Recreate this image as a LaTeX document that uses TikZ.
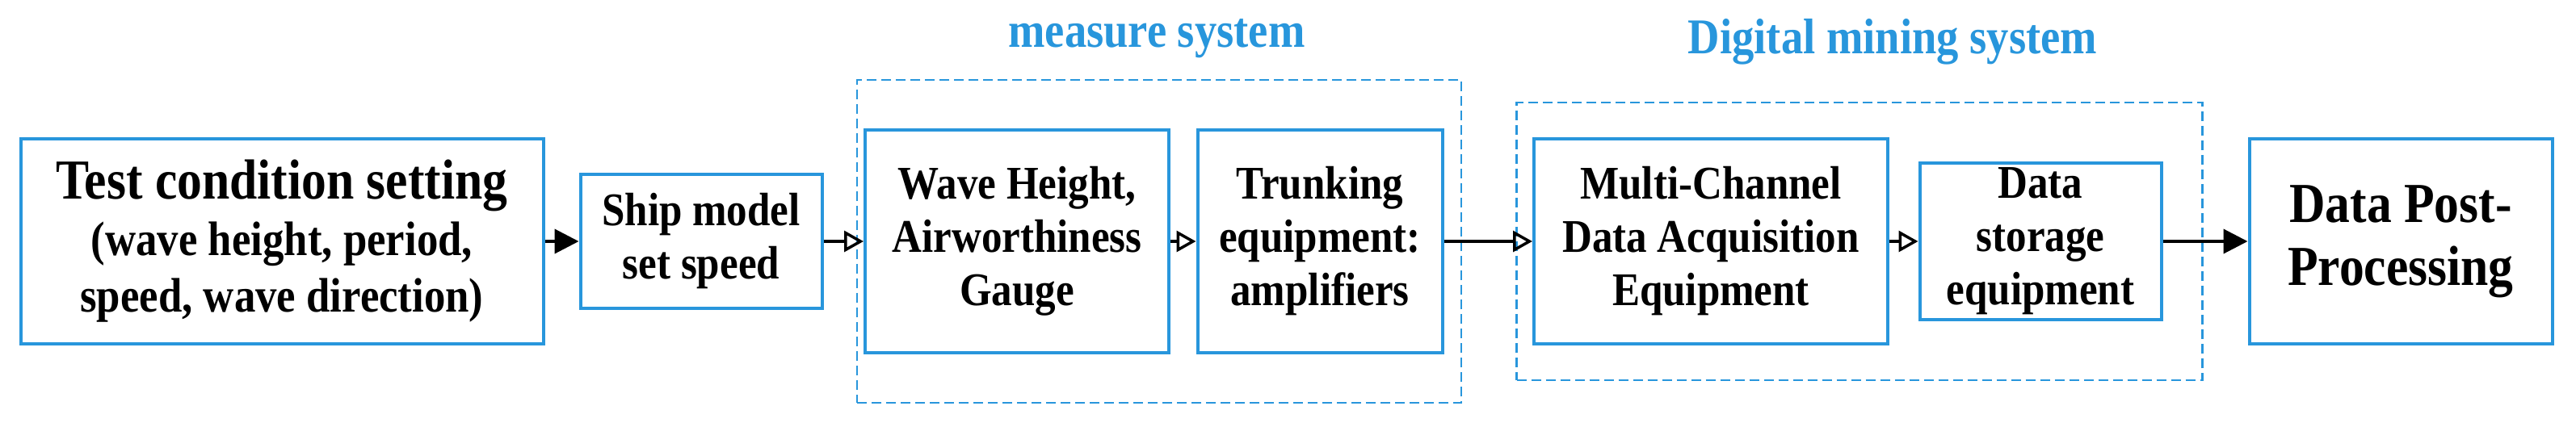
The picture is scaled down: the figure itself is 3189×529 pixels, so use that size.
\documentclass[tikz,border=0pt]{standalone}
\usepackage{fontspec}
\setmainfont{Liberation Serif}[FakeStretch=0.88]
\usetikzlibrary{arrows.meta}
\definecolor{bl}{RGB}{40,150,220}
\begin{document}
\begin{tikzpicture}[x=1pt,y=-1pt,
  box/.style={draw=bl,line width=4pt,align=center,font=\bfseries\fontsize{58}{66}\selectfont,inner sep=0pt},
  grp/.style={draw=bl,line width=2.5pt,dash pattern=on 12pt off 6pt},
  ttl/.style={text=bl,font=\bfseries\fontsize{62}{70}\selectfont},
  fa/.style={line width=4pt,-{Triangle[length=30pt,width=30pt]}},
  oa/.style={line width=4pt,-{Triangle[open,length=24pt,width=26pt,line width=3.5pt]}}]
\useasboundingbox (0,0) rectangle (3189,529);
\node[grp,minimum width=748,minimum height=400] (g1) at (1435,299) {};
\node[grp,minimum width=849,minimum height=344] (g2) at (2302,299) {};
\node[ttl] (t1) at (1432,48) {measure system};
\node[ttl] (t2) at (2343,52) {Digital mining system};
\node[box,minimum width=647,minimum height=253,font=\bfseries\fontsize{60}{70}\selectfont] (a) at (349,299) {{\fontsize{70}{74}\selectfont Test condition setting}\\(wave height, period,\\speed, wave direction)};
\node[box,minimum width=299,minimum height=166] (b) at (868,299) {Ship model\\set speed};
\node[box,minimum width=376,minimum height=276] (c) at (1259,299) {Wave Height,\\Airworthiness\\Gauge};
\node[box,minimum width=303,minimum height=276] (d) at (1634,299) {Trunking\\equipment:\\amplifiers};
\node[box,minimum width=438,minimum height=254] (e) at (2118,299) {Multi-Channel\\Data Acquisition\\Equipment};
\node[box,minimum width=299,minimum height=193] (f) at (2526,299) {Data\\storage\\equipment};
\node[box,minimum width=375,minimum height=254,font=\bfseries\fontsize{70}{78}\selectfont] (g) at (2972,299) {Data Post-\\Processing};
\draw[fa] (a) -- (b);
\draw[oa] (b) -- (c);
\draw[oa] (c) -- (d);
\draw[oa] (d) -- (e);
\draw[oa] (e) -- (f);
\draw[fa] (f) -- (g);
\end{tikzpicture}
\end{document}
